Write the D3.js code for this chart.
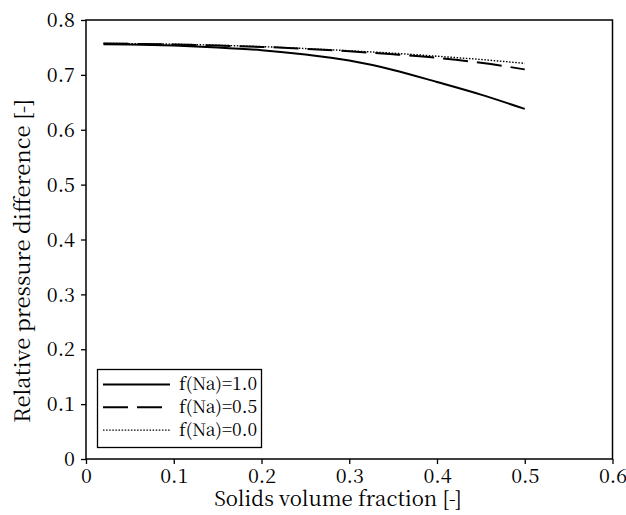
<!DOCTYPE html>
<html>
<head>
<meta charset="utf-8">
<script src="https://cdn.jsdelivr.net/npm/d3@7"></script>
<style>
  html, body { margin: 0; padding: 0; background: #fff; }
  svg { display: block; }
</style>
</head>
<body>
<svg id="chart" width="626" height="515"></svg>
<script>
// Data
const xValues = [0.02, 0.05, 0.10, 0.15, 0.20, 0.25, 0.30, 0.35, 0.40, 0.45, 0.50];
const seriesNa10 = [0.756, 0.7555, 0.7535, 0.750, 0.745, 0.737, 0.726, 0.709, 0.687, 0.664, 0.638];
const seriesNa05 = [0.757, 0.7565, 0.7555, 0.7535, 0.751, 0.7475, 0.743, 0.7375, 0.731, 0.722, 0.710];
const seriesNa00 = [0.7575, 0.757, 0.756, 0.754, 0.7515, 0.748, 0.744, 0.7395, 0.734, 0.728, 0.721];
const seriesNames = ["f(Na)=1.0", "f(Na)=0.5", "f(Na)=0.0"];
const xTicks = [0, 0.1, 0.2, 0.3, 0.4, 0.5, 0.6];
const yTicks = [0, 0.1, 0.2, 0.3, 0.4, 0.5, 0.6, 0.7, 0.8];
const xTitle = "Solids volume fraction [-]";
const yTitle = "Relative pressure difference [-]";

const series = [
  { name: seriesNames[0], values: seriesNa10, dash: null, width: 2 },
  { name: seriesNames[1], values: seriesNa05, dash: "25,9", width: 2 },
  { name: seriesNames[2], values: seriesNa00, dash: "1.5,1.6", width: 1.4 }
];

const FONT = "'Noto Serif CJK SC', 'Liberation Serif', serif";
const svg = d3.select("#chart");
const margin = { left: 86, right: 13.5, top: 20, bottom: 56 };
const W = 626, H = 515;
const x = d3.scaleLinear().domain([0, 0.6]).range([margin.left, W - margin.right]);
const y = d3.scaleLinear().domain([0, 0.8]).range([H - margin.bottom, margin.top]);

const fmt = d => d === 0 ? "0" : d3.format(".1f")(d);
const setFont = (sel, size) => sel.attr("style", `font-family:${FONT};font-size:${size}px;fill:#000`);

// axes
const xAxis = svg.append("g")
  .attr("transform", `translate(0,${y(0)})`)
  .call(d3.axisBottom(x).tickValues(xTicks).tickFormat(fmt).tickSize(5));
const yAxis = svg.append("g")
  .attr("transform", `translate(${x(0)},0)`)
  .call(d3.axisLeft(y).tickValues(yTicks).tickFormat(fmt).tickSize(5).tickPadding(6));
[xAxis, yAxis].forEach(g => {
  g.attr("font-family", null).attr("font-size", null);
  g.select(".domain").remove();
  g.selectAll("line").attr("stroke", "#000").attr("stroke-width", 1.3);
  setFont(g.selectAll("text"), 19.8);
});
xAxis.selectAll("text").attr("y", 24).attr("dy", null);
yAxis.selectAll("text").attr("dy", "0.34em");

// frame
svg.append("rect")
  .attr("x", x(0)).attr("y", y(0.8))
  .attr("width", x(0.6) - x(0)).attr("height", y(0) - y(0.8))
  .attr("fill", "none").attr("stroke", "#000").attr("stroke-width", 1.5);

// lines
const line = d3.line().x((d, i) => x(xValues[i])).y(d => y(d)).curve(d3.curveMonotoneX);
series.forEach(s => {
  svg.append("path")
    .datum(s.values)
    .attr("d", line)
    .attr("fill", "none")
    .attr("stroke", "#000")
    .attr("stroke-width", s.width)
    .attr("stroke-dasharray", s.dash);
});

// titles
setFont(svg.append("text")
  .attr("x", 338).attr("y", 505.5)
  .attr("text-anchor", "middle")
  .text(xTitle), 20.4);
setFont(svg.append("text")
  .attr("transform", `translate(30,261) rotate(-90)`)
  .attr("text-anchor", "middle")
  .attr("textLength", 324).attr("lengthAdjust", "spacingAndGlyphs")
  .text(yTitle), 21);

// legend
const lg = svg.append("g");
lg.append("rect")
  .attr("x", 97.5).attr("y", 369.5).attr("width", 164).attr("height", 78)
  .attr("fill", "#fff").attr("stroke", "#000").attr("stroke-width", 1.3);
series.forEach((s, i) => {
  const yy = 384.5 + i * 22.8;
  lg.append("line")
    .attr("x1", 103).attr("x2", 170).attr("y1", yy).attr("y2", yy)
    .attr("stroke", "#000").attr("stroke-width", s.width)
    .attr("stroke-dasharray", s.dash);
  setFont(lg.append("text")
    .attr("x", 179).attr("y", yy + 5.5)
    .text(s.name), 17.5);
});
</script>
</body>
</html>
